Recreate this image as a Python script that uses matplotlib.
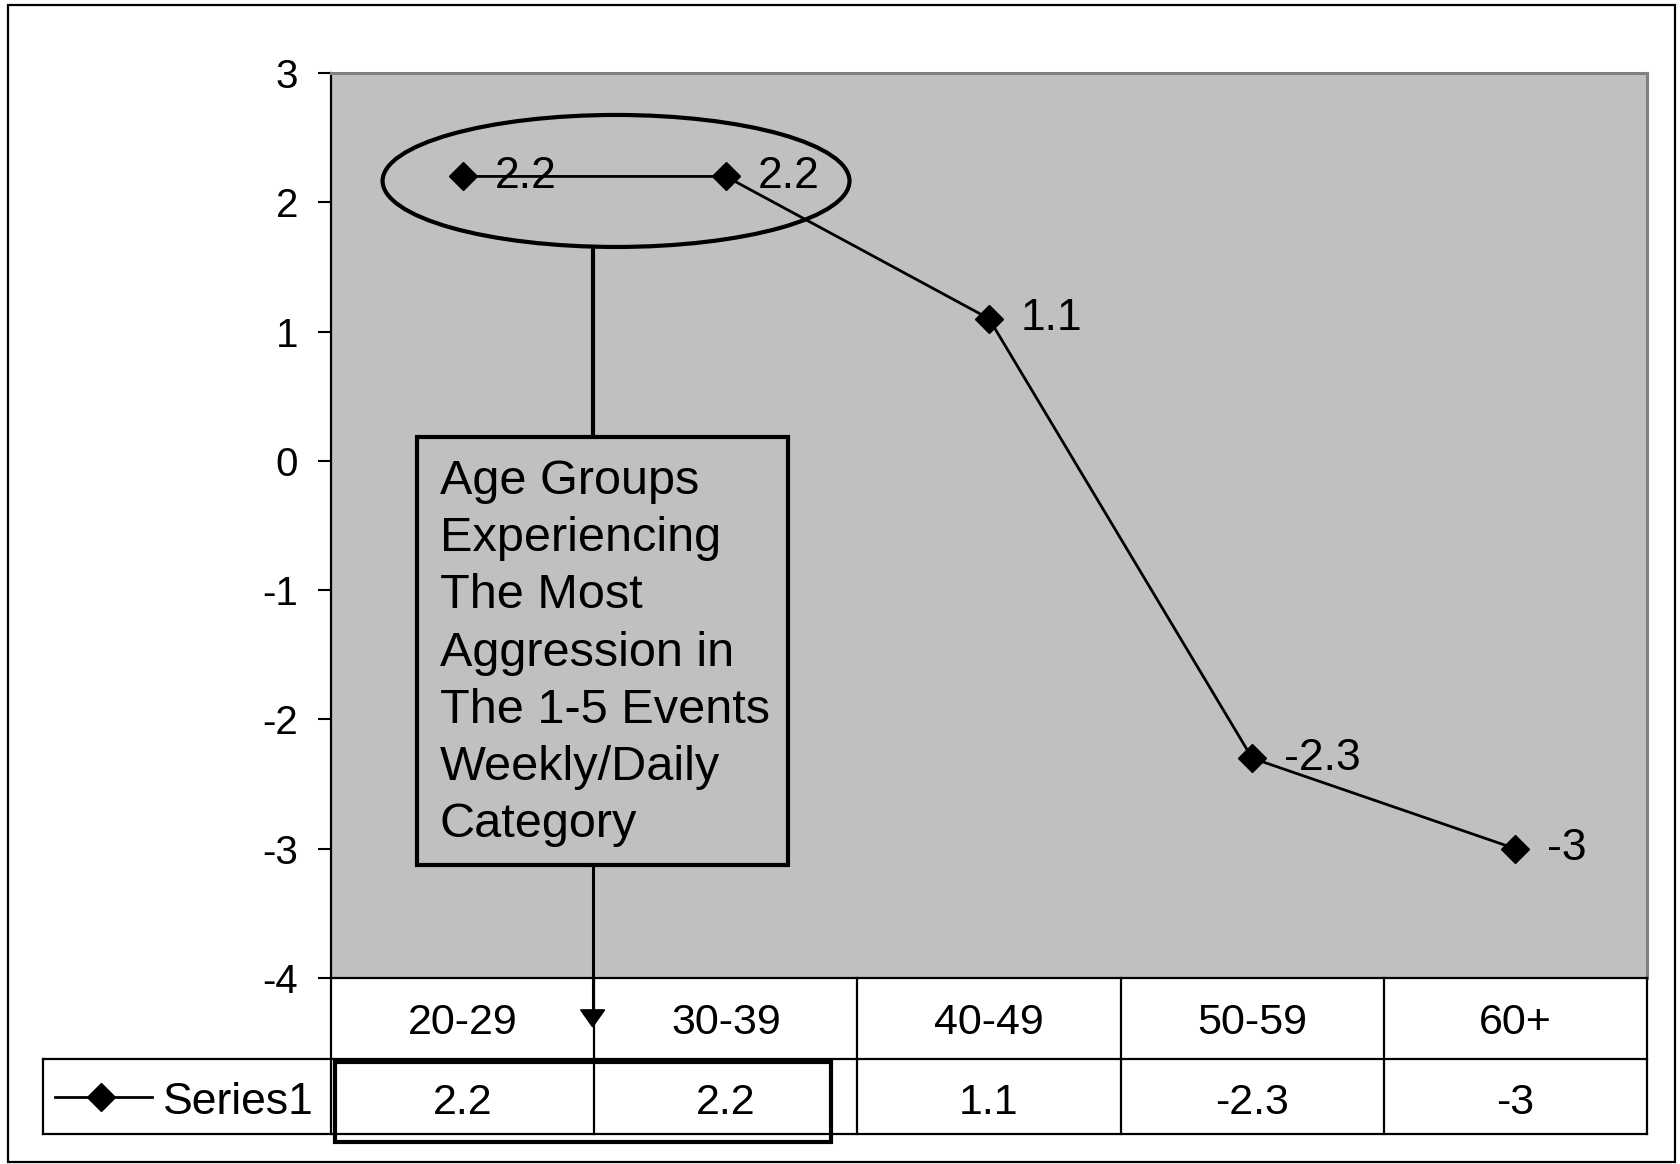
import matplotlib
matplotlib.use("Agg")
import matplotlib.pyplot as plt
from matplotlib.patches import Ellipse, Rectangle, Polygon
from matplotlib.transforms import Affine2D, blended_transform_factory
from matplotlib.lines import Line2D

plt.rcParams["font.family"] = ["Liberation Sans", "DejaVu Sans"]

# Data
categories = ["20-29", "30-39", "40-49", "50-59", "60+"]
values = [2.2, 2.2, 1.1, -2.3, -3]
value_labels = ["2.2", "2.2", "1.1", "-2.3", "-3"]
series_name = "Series1"
y_ticks = [3, 2, 1, 0, -1, -2, -3, -4]
note_text = ("Age Groups\nExperiencing\nThe Most\nAggression in\n"
             "The 1-5 Events\nWeekly/Daily\nCategory")

W, H = 1681, 1164
DPI = 100
FS_TICK = 29
FS_TABLE = 31
FS_LABEL = 32
FS_NOTE = 35

fig = plt.figure(figsize=(W / DPI, H / DPI), dpi=DPI)
fig.patch.set_facecolor("white")

# pixel transform (origin top-left)
pix = Affine2D().scale(1 / W, -1 / H).translate(0, 1) + fig.transFigure

# plot area
L, R, T, B = 331, 1647, 73, 978
ax = fig.add_axes([L / W, 1 - B / H, (R - L) / W, (B - T) / H])
ax.set_facecolor("#C0C0C0")
xs = list(range(len(categories)))
ax.set_xlim(-0.5, len(categories) - 0.5)
ax.set_ylim(-4, 3)

ax.plot(xs, values, color="black", lw=2.0, marker="D", markersize=14,
        markerfacecolor="black", markeredgecolor="black", zorder=4)
for x, v, lab in zip(xs, values, value_labels):
    ax.annotate(lab, (x, v), xytext=(23, 0), textcoords="offset points",
                ha="left", va="center", fontsize=FS_LABEL, zorder=5)

ax.set_yticks(y_ticks)
ax.set_yticklabels([str(t) for t in y_ticks], fontsize=FS_TICK)
ax.tick_params(axis="y", direction="out", length=9.5, width=1.5, pad=14, color="black")
ax.set_xticks([])
for s in ("top", "right"):
    ax.spines[s].set_color("#808080")
    ax.spines[s].set_linewidth(2.2)
for s in ("left", "bottom"):
    ax.spines[s].set_color("black")
    ax.spines[s].set_linewidth(1.6)

# highlight ellipse around the two top values
ell = Ellipse((0.583, 2.165), 1.774, 1.021, fill=False, edgecolor="black",
              lw=3.0, zorder=6)
ax.add_patch(ell)

# connector from ellipse to note box
ax.plot([0.494, 0.494], [1.654, 0.185], color="black", lw=3.0, zorder=6,
        solid_capstyle="butt")

# note box
box = Rectangle((-0.175, -3.125), 1.41, 3.31, fill=False, edgecolor="black",
                lw=3.0, zorder=6)
ax.add_patch(box)
ax.text(-0.175, 0.185, note_text, fontsize=FS_NOTE, ha="left", va="top",
        linespacing=1.35, zorder=7,
        transform=ax.transData + Affine2D().translate(23, -22))

# arrow from note box down into the table
ax.plot([0.494, 0.494], [-3.125, -4.26], color="black", lw=2.2, zorder=6,
        clip_on=False, solid_capstyle="butt")
xd = ax.transData
tip = xd.transform((0.494, -4.378))
head = Polygon([[tip[0], tip[1]], [tip[0] - 12, tip[1] + 17], [tip[0] + 12, tip[1] + 17]],
               closed=True, facecolor="black", edgecolor="black",
               transform=None, zorder=7, clip_on=False)
fig.add_artist(head)

# data table below the plot
tb = blended_transform_factory(ax.transData, pix)
row1_top, row1_bot, row2_bot = 978, 1059, 1134
lw_t = 1.6
n = len(categories)
for i in range(n + 1):
    xb = i - 0.5
    fig.add_artist(Line2D([xb, xb], [row1_top, row2_bot], transform=tb,
                          color="black", lw=lw_t))
fig.add_artist(Line2D([43, R], [row1_bot, row1_bot], transform=pix, color="black", lw=lw_t))
fig.add_artist(Line2D([43, R], [row2_bot, row2_bot], transform=pix, color="black", lw=lw_t))
fig.add_artist(Line2D([43, 43], [row1_bot, row2_bot], transform=pix, color="black", lw=lw_t))

for x, cat, lab in zip(xs, categories, value_labels):
    fig.text(x, (row1_top + row1_bot) / 2, cat, transform=tb, ha="center",
             va="center_baseline", fontsize=FS_TABLE)
    fig.text(x, (row1_bot + row2_bot) / 2 + 2, lab, transform=tb, ha="center",
             va="center_baseline", fontsize=FS_TABLE)

# legend key in the table
ymid = (row1_bot + row2_bot) / 2
fig.add_artist(Line2D([55, 152], [ymid, ymid], transform=pix, color="black", lw=2.0))
fig.add_artist(Line2D([101], [ymid], transform=pix, color="black", marker="D",
                      markersize=14, markerfacecolor="black", lw=0))
fig.text(163, ymid + 2, series_name, transform=pix, ha="left", va="center_baseline",
         fontsize=FS_LABEL)

# thick highlight around the first two table values
hl = Rectangle((-0.485, 1062), 1.885, 80, transform=tb, fill=False,
               edgecolor="black", lw=3.0, zorder=8)
fig.add_artist(hl)

# outer chart border
fig.add_artist(Rectangle((8, 5), 1667, 1157, transform=pix, fill=False,
                         edgecolor="black", lw=1.6))

fig.savefig("out.png", dpi=DPI, facecolor="white")
